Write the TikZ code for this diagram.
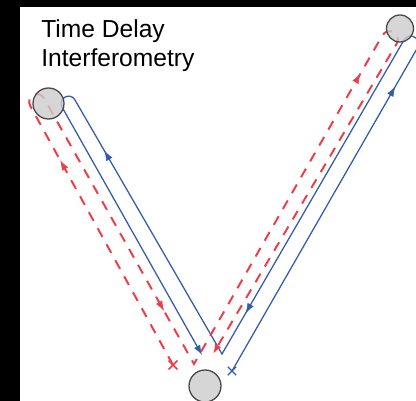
\documentclass[tikz,border=0pt]{standalone}
\usepackage{fontspec}
\setmainfont{Liberation Sans}
\usepackage{tikz}
\usetikzlibrary{arrows.meta,decorations.markings,shapes.misc}
\definecolor{tdiBlue}{RGB}{52,92,170}
\definecolor{tdiRed}{RGB}{236,62,72}
\definecolor{massGray}{RGB}{204,204,204}
\definecolor{massEdge}{RGB}{70,70,70}

\begin{document}
\begin{tikzpicture}[
        x=0.025cm, y=0.025cm,
        mass/.style={circle, draw=massEdge, fill=massGray, fill opacity=0.8,
          line width=0.9pt, inner sep=0pt},
        bluebeam/.style={draw=tdiBlue, line width=0.9pt},
        redbeam/.style={draw=tdiRed, line width=1.4pt, dash pattern=on 7pt off 6pt},
        flowtip/.style 2 args={decoration={markings,
          mark=at position #1 with {\arrow[#2]{Latex[length=7pt,width=5pt]}}}, decorate},
        stopmark/.style={cross out, line width=0.9pt, minimum size=0.18cm, inner sep=0pt},
        >={Latex[length=7pt,width=5pt]}
      ]
        \fill[black] (0,0) rectangle (416,401);
        \fill[white] (20,0) rectangle (416,394);
        \useasboundingbox (0,0) rectangle (416,401);

        \node[anchor=north west, inner sep=0pt, align=left,
          font=\fontsize{17.5}{21}\selectfont] (title) at (41,382) {Time Delay\\Interferometry};

        \coordinate (b1) at (417.5,353.2);
        \coordinate (b2) at (404,361);
        \coordinate (bv) at (222,47);
        \coordinate (b3) at (75,301);
        \coordinate (b4) at (62.1,293.8);
        \coordinate (bend) at (202,46);
        \coordinate (r1) at (30.3,295);
        \coordinate (r2) at (44,302.7);
        \coordinate (rv) at (194,37);
        \coordinate (r3) at (382,365);
        \coordinate (r4) at (396.5,357);
        \coordinate (rend) at (213,47);
        \node[stopmark, draw=tdiBlue] (xb) at (232,30) {};
        \node[stopmark, draw=tdiRed, line width=1.2pt] (xr) at (173,36) {};

        \draw[bluebeam, ->] (xb.center) -- (b1) .. controls +(5.2,9) and +(5.2,9) .. (b2)
          -- (bv) -- (b3) .. controls +(-4.8,8.6) and +(-4.8,8.6) .. (b4) -- (bend);
        \draw[redbeam, ->] (xr.center) -- (r1) .. controls +(-5.1,9.2) and +(-5.1,9.2) .. (r2)
          -- (rv) -- (r3) .. controls +(6,10.4) and +(6,10.4) .. (r4) -- (rend);

        \path[flowtip={0.88}{tdiBlue}] (xb.center) -- (b1);
        \path[flowtip={0.87}{tdiBlue}] (b2) -- (bv);
        \path[flowtip={0.8}{tdiBlue}] (bv) -- (b3);
        \path[flowtip={0.79}{tdiRed}] (xr.center) -- (r1);
        \path[flowtip={0.8}{tdiRed}] (r2) -- (rv);
        \path[flowtip={0.885}{tdiRed}] (rv) -- (r3);

        \node[mass, minimum size=0.775cm] (mirrorA) at (48.5,297.5) {};
        \node[mass, minimum size=0.675cm] (mirrorB) at (400,372.5) {};
        \node[mass, minimum size=0.8cm] (mirrorC) at (205,15) {};
      \end{tikzpicture}
\end{document}
